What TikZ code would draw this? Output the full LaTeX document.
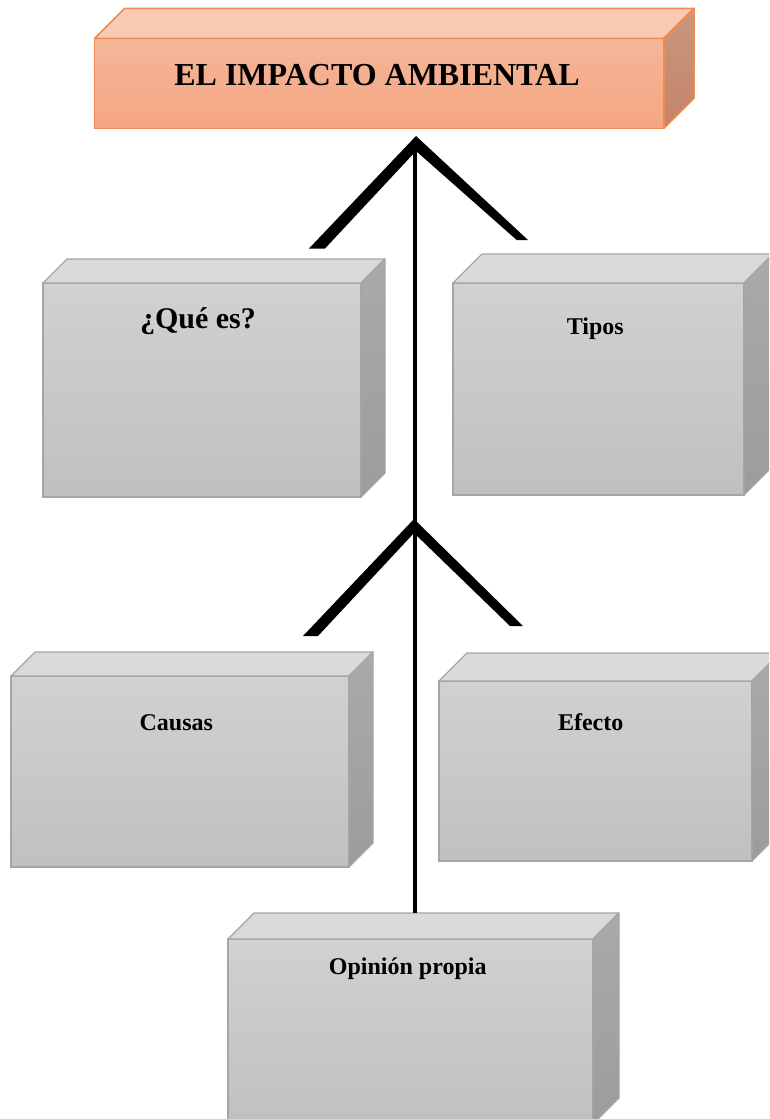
\documentclass[tikz,border=0pt]{standalone}
\usepackage{fontspec}
\setmainfont{Liberation Serif}
\definecolor{gfrontT}{HTML}{D1D1D1}
\definecolor{gfrontB}{HTML}{C0C0C0}
\definecolor{gtop}{HTML}{DADADA}
\definecolor{gsideT}{HTML}{AAAAAA}
\definecolor{gsideB}{HTML}{9C9C9C}
\definecolor{gedge}{HTML}{A5A5A5}
\definecolor{ofrontT}{HTML}{F4B699}
\definecolor{ofrontB}{HTML}{F5A683}
\definecolor{otop}{HTML}{F8C9B3}
\definecolor{osideT}{HTML}{C9977F}
\definecolor{osideB}{HTML}{C4846A}
\definecolor{oedge}{HTML}{F08C4C}
\newcommand{\mycube}[7]{%
  \node[front#7, minimum width=#4pt, minimum height=#5pt] (#1) at (#2,#3) {};
  \path[top#7] (#1.north west) -- ++(#6,-#6) -- ++(#4,0) -- (#1.north east) -- cycle;
  \path[side#7] (#1.north east) -- ++(#6,-#6) -- ++(0,#5) -- (#1.south east) -- cycle;
}
\begin{document}
\begin{tikzpicture}[x=1pt,y=-1pt,
  frontg/.style={rectangle, draw=gedge, line width=1.2pt, top color=gfrontT, bottom color=gfrontB, inner sep=0pt, outer sep=0pt, anchor=north west},
  topg/.style={draw=gedge, line width=1.2pt, fill=gtop, line join=round},
  sideg/.style={draw=gedge, line width=1.2pt, top color=gsideT, bottom color=gsideB, line join=round},
  fronto/.style={rectangle, draw=oedge, line width=1.5pt, top color=ofrontT, bottom color=ofrontB, inner sep=0pt, outer sep=0pt, anchor=north west},
  topo/.style={draw=oedge, line width=1.5pt, fill=otop, line join=round},
  sideo/.style={draw=oedge, line width=1.5pt, top color=osideT, bottom color=osideB, line join=round},
  lbl/.style={font=\bfseries\fontsize{24}{28}\selectfont, anchor=base, inner sep=0pt},
  chev/.style={fill=black},
  stem/.style={draw=black, line width=3.5pt}
]
\useasboundingbox (0,0) rectangle (769,1119);
\clip (0,0) rectangle (769,1119);

% chevrons
\fill[chev] (416,136) -- (309,248.5) -- (325,248.5) -- (416,151) -- (516.7,240) -- (528,240) -- cycle;
\fill[chev] (414,519) -- (303,636) -- (318,636) -- (414,533) -- (510,626) -- (523,626) -- cycle;

% boxes
\mycube{title}{94.7}{38.3}{569.3}{90}{30}{o}
\mycube{que}{43}{283}{318}{214}{24}{g}
\mycube{tipos}{453}{283}{291}{212}{29}{g}
\mycube{causas}{11}{676}{338}{191}{24}{g}
\mycube{efecto}{439}{681}{313}{180}{28}{g}
\mycube{opinion}{228}{939}{365}{185}{26}{g}

% stem
\coordinate (apex1) at (415,150);
\coordinate (optop) at (415,913);
\draw[stem] (apex1) -- (optop);

% labels
\node[lbl, font=\bfseries\fontsize{32}{36}\selectfont] (titlet) at (377,85.5) {EL IMPACTO AMBIENTAL};
\node[lbl, font=\bfseries\fontsize{30}{34}\selectfont] (quet) at (198,328) {¿Qué es?};
\node[lbl] (tipost) at (595.3,334) {Tipos};
\node[lbl] (causast) at (176.3,730) {Causas};
\node[lbl] (efectot) at (590.7,730) {Efecto};
\node[lbl] (opiniont) at (407.7,974.3) {Opinión propia};
\end{tikzpicture}
\end{document}
